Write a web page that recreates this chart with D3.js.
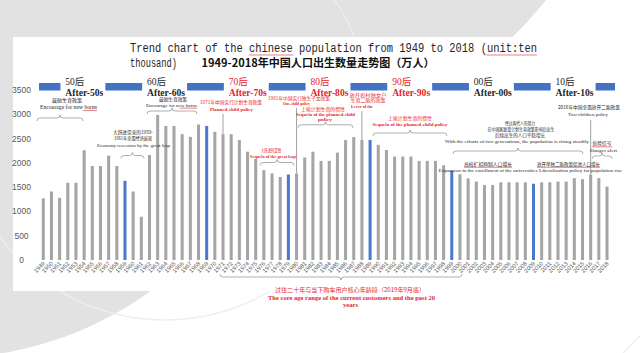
<!DOCTYPE html>
<html lang="zh-CN">
<head>
<meta charset="UTF-8">
<title>1949-2018年中国人口出生数量走势图</title>
<script src="https://d3js.org/d3.v7.min.js"></script>
<style>
  html, body { margin: 0; padding: 0; background: #fff; }
  svg { display: block; }
</style>
</head>
<body>
<svg width="640" height="353"></svg>
<script>
// 数据：出生人口（万人）
const years = d3.range(1949, 2019);
const births = [
  1270, 1410, 1280, 1590, 1590, 2260, 1935, 1935, 2150, 1935,
  1630, 1410, 890, 2450, 2985, 2760, 2760, 2590, 2535, 2790,
  2760, 2640, 2590, 2590, 2470, 2230, 2080, 1850, 1785, 1710,
  1760, 1780, 2110, 2230, 2040, 2040, 2210, 2470, 2530, 2470,
  2470, 2370, 2265, 2130, 2130, 2130, 2040, 2040, 2040, 1950,
  1840, 1765, 1680, 1615, 1545, 1545, 1600, 1600, 1600, 1600,
  1570, 1600, 1600, 1615, 1615, 1685, 1665, 1760, 1685, 1510
];
const blueYears = [1959, 1969, 1979, 1989, 1999, 2009];
const yTicks = [0, 500, 1000, 1500, 2000, 2500, 3000, 3500];
const eraCn = ["50后", "60后", "70后", "80后", "90后", "00后", "10后"];
const eraEn = ["After-50s", "After-60s", "After-70s", "After-80s", "After-90s", "After-00s", "After-10s"];
const eraStart = [1950, 1960, 1970, 1980, 1990, 2000, 2010];
const eraRed = [false, false, true, true, true, false, false];

const data = years.map((y, i) => ({ year: y, value: births[i] }));

const RED = "#e8232a", INK = "#262626", GREY = "#8c8c8c";
const CN = "'Noto Sans CJK SC', sans-serif";
const SERIF = "'Liberation Serif', 'Noto Sans CJK SC', serif";

const svg = d3.select("svg");

// 背景装饰
svg.append("rect").attr("width", 640).attr("height", 353).attr("fill", "#fff");
svg.append("circle").attr("cx", 220).attr("cy", -260).attr("r", 417).attr("fill", "#e2e2e2");
svg.append("circle").attr("cx", -56).attr("cy", 5).attr("r", 353).attr("fill", "#e2e2e2");
svg.append("circle").attr("cx", 165).attr("cy", 115).attr("r", 205)
  .attr("fill", "none").attr("stroke", "#eeeeee").attr("stroke-width", 1.2);
svg.append("circle").attr("cx", 760).attr("cy", 470).attr("r", 180)
  .attr("fill", "none").attr("stroke", "#eeeeee").attr("stroke-width", 1.2);
svg.append("rect").attr("x", 13).attr("y", 37).attr("width", 627).attr("height", 254).attr("fill", "#fff");

// 比例尺
const x = d3.scaleBand().domain(years).range([39.2, 611.1]).paddingInner(0.63).paddingOuter(0.315);
const y = d3.scaleLinear().domain([0, 3500]).range([260, 90]);
const bw = x.bandwidth();
const xc = d3.scaleLinear().domain([1949, 2018]).range([x(1949) + bw / 2, x(2018) + bw / 2]);

// 标题
svg.append("text").attr("x", 130).attr("y", 52)
  .attr("textLength", 407).attr("lengthAdjust", "spacingAndGlyphs")
  .style("font-family", "'Liberation Mono', monospace").style("font-size", "12.5px").attr("fill", INK)
  .text("Trend chart of the chinese population from 1949 to 2018 (unit:ten");
svg.append("text").attr("x", 130).attr("y", 67)
  .attr("textLength", 47).attr("lengthAdjust", "spacingAndGlyphs")
  .style("font-family", "'Liberation Mono', monospace").style("font-size", "12.5px").attr("fill", INK)
  .text("thousand)");
svg.append("text").attr("x", 201.5).attr("y", 67)
  .attr("textLength", 233).attr("lengthAdjust", "spacingAndGlyphs")
  .style("font-family", CN).style("font-size", "11px").style("font-weight", "bold").attr("fill", "#111")
  .text("1949-2018年中国人口出生数量走势图（万人）");

// 红色波浪下划线（拼写检查）
function wavy(x1, x2, yy) {
  const pts = [];
  for (let px = x1, k = 0; px <= x2; px += 1, k++) pts.push([px, yy + (k % 2 ? -0.6 : 0.6)]);
  svg.append("path").attr("d", d3.line()(pts)).attr("fill", "none")
    .attr("stroke", "#e23b3b").attr("stroke-width", 0.6);
}
wavy(249, 293, 55);
wavy(486, 537, 55);

// 年代时间轴
const eraLabelX = eraStart.map(d => xc(d + 1.7));
eraStart.forEach(d => {
  const a = Math.max(xc(d - 3.4), 39), b = Math.min(xc(d + 1.1), 615);
  svg.append("rect").attr("x", a).attr("y", 83).attr("width", b - a).attr("height", 7.5).attr("fill", "#4472c4");
});
svg.append("rect").attr("x", xc(2016.6)).attr("y", 83).attr("width", 615 - xc(2016.6)).attr("height", 7.5).attr("fill", "#4472c4");
eraCn.forEach((t, i) => {
  const col = eraRed[i] ? RED : INK;
  svg.append("text").attr("x", eraLabelX[i]).attr("y", 84.5)
    .style("font-family", SERIF).style("font-size", "9.5px").attr("fill", col).text(t);
  svg.append("text").attr("x", eraLabelX[i]).attr("y", 95.5)
    .attr("textLength", 38).attr("lengthAdjust", "spacingAndGlyphs")
    .style("font-family", SERIF).style("font-size", "10px").style("font-weight", "bold")
    .attr("fill", col).text(eraEn[i]);
});

// 柱子
svg.append("g").selectAll("rect").data(data).join("rect")
  .attr("x", d => x(d.year))
  .attr("y", d => y(d.value))
  .attr("width", bw)
  .attr("height", d => y(0) - y(d.value))
  .attr("fill", d => blueYears.includes(d.year) ? "#4a78cc" : "#a5a5a5");

// Y 轴
svg.append("g").selectAll("text").data(yTicks).join("text")
  .attr("x", 21.5).attr("y", d => y(d) + 3)
  .attr("text-anchor", "middle")
  .style("font-family", "'Liberation Sans', sans-serif").style("font-size", "8.5px")
  .attr("fill", "#595959").text(d => d);

// X 轴
svg.append("g").selectAll("text").data(years).join("text")
  .attr("transform", d => `translate(${x(d) + bw / 2 + 2},264) rotate(-45)`)
  .attr("text-anchor", "end")
  .style("font-family", "'Liberation Sans', sans-serif").style("font-size", "5.8px")
  .attr("fill", "#595959").text(d => d);

// 注释
function brace(x1, x2, yy, dir, mid) {
  const m = mid === undefined ? (x1 + x2) / 2 : mid, h = 3 * dir;
  const p = `M${x1},${yy + h} Q${x1},${yy} ${x1 + 3},${yy} L${m - 3},${yy} Q${m},${yy} ${m},${yy - h}` +
            ` Q${m},${yy} ${m + 3},${yy} L${x2 - 3},${yy} Q${x2},${yy} ${x2},${yy + h}`;
  svg.append("path").attr("d", p).attr("fill", "none").attr("stroke", GREY).attr("stroke-width", 0.7);
}
function note(t, cx, yy, w, size, col, font, bold) {
  svg.append("text").attr("x", cx - w / 2).attr("y", yy)
    .attr("textLength", w).attr("lengthAdjust", "spacingAndGlyphs")
    .style("font-family", font).style("font-size", size + "px")
    .style("font-weight", bold ? "bold" : "normal")
    .attr("fill", col).text(t);
}
function leader(year, y0) {
  svg.append("line").attr("x1", xc(year)).attr("x2", xc(year))
    .attr("y1", y0).attr("y2", y(births[years.indexOf(year)]))
    .attr("stroke", GREY).attr("stroke-width", 0.8);
}

// 50 年代
note("鼓励生育政策", 67, 102, 30, 5, INK, CN);
note("Encourage for new borns", 68.5, 109, 57, 5.2, INK, SERIF);
wavy(83, 97, 110.5);
brace(37, 83, 118, 1);

// 大跃进
svg.append("rect").attr("x", 112).attr("y", 128).attr("width", 41).attr("height", 27).attr("fill", "#fff");
note("大跃进带来的1959-", 133, 134, 40, 5, INK, CN);
note("1961年全面经济衰退", 133, 140, 38, 5, INK, CN);
note("Economy recession by the great leap", 133.5, 146.5, 73, 5, INK, SERIF);
brace(121, 144, 155.5, 1);

// 60 年代
note("鼓励生育政策", 173, 100.5, 28, 4.6, INK, CN);
note("Encourage for new borns", 171.5, 106.8, 51, 5, INK, SERIF);
wavy(180, 197, 108.2);
brace(147, 197, 111, 1);

// 1971 计划生育
note("1971年中国实行计划生育政策", 231, 104.3, 62, 5, RED, CN);
note("Planned-child policy", 231.5, 110.7, 43, 5, RED, SERIF, true);
leader(1971, 114);

// 1981 独生子女
note("1981年中国实行独生子女政策", 299, 99.6, 62, 4.6, RED, CN);
note("One-child policy", 296.5, 105.2, 27, 5, RED, SERIF, true);
leader(1980, 108);

// 80 年代惯性
note("上轮计划生育的惯性", 323, 110.8, 44, 5, RED, CN);
note("Sequela of the planned-child", 325.5, 116, 59, 5, RED, SERIF, true);
note("policy", 325, 120.8, 14, 5, RED, SERIF, true);
brace(298, 353, 124.8, 1);

// 农村二胎
note("放开农村独女户", 368, 96.5, 37, 4.8, RED, CN);
note("生育二胎的政策", 368, 102, 35, 4.8, RED, CN);
note("Lever of the", 362, 108.3, 22, 5, RED, SERIF, true);
leader(1988, 111);

// 90 年代惯性
note("上轮计划生育的惯性", 410, 119.5, 44, 5, RED, CN);
note("Sequela of the planned-child policy", 410, 126, 75, 5, RED, SERIF, true);
brace(373, 447, 133, 1);

// 大跃进遗憾
note("大跃进的遗憾", 271, 151.7, 20, 5, RED, CN);
note("Sequela of the great leap", 273, 157.5, 46, 5, RED, SERIF, true);
brace(260, 294, 162.5, 1, 277);

// 两代人努力
note("经过两代人的努力", 520, 125, 30, 4.5, INK, CN);
note("在中国家庭受计划生育政策影响后出生", 521, 130.7, 67, 4.5, INK, CN);
note("后续出生的人口平稳增长", 520, 136.5, 50, 4.5, INK, CN);
note("With the efforts of two generations, the population is rising steadily", 517, 142.7, 144, 5, INK, SERIF);
brace(453, 583, 151, 1, 518);

// 2016 二胎
note("2016年中国全面放开二胎政策", 589, 109, 62, 5, INK, CN);
note("Two-children policy", 588, 116, 40, 5, INK, SERIF);
leader(2016, 120);

// 危险信号
note("危险信号", 602, 145, 19, 5, INK, CN);
wavy(592, 612, 146.8);
note("Danger alert", 603.5, 151.5, 27, 5, INK, SERIF);
brace(592, 612, 156, 1);

// 高校扩招
note("高校扩招抑制人口增长", 488, 165.5, 48, 5, INK, CN);
wavy(464, 512, 167.3);
note("Expansion in the enrollment of the universities", 488, 172, 99, 5, INK, SERIF);

// 单独二胎
note("放开单独二胎政策促进人口增长", 568.5, 165.5, 63, 5, INK, CN);
wavy(537, 600, 167.3);
note("Liberalization policy for population rise", 580.5, 172, 83, 5, INK, SERIF);

// 底部：核心年龄段
brace(220, 462, 277, -1, 341);
note("过往二十年与当下购车用户核心年龄段（2019年9月底）", 350, 292, 150, 5.5, RED, CN);
note("The core age range of the current customers and the past 20", 351.5, 299.5, 167, 5.8, RED, SERIF, true);
note("years", 350.5, 307, 15, 5.8, RED, SERIF, true);
</script>
</body>
</html>
